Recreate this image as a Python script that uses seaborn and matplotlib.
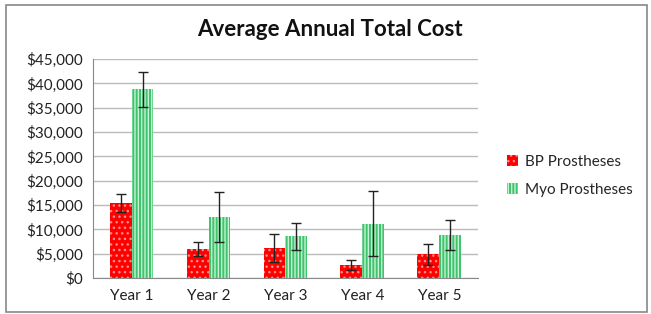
import pandas as pd
import numpy as np
import matplotlib.pyplot as plt
import matplotlib.ticker as mticker
from matplotlib.patches import Rectangle
import seaborn as sns

years = ['Year 1', 'Year 2', 'Year 3', 'Year 4', 'Year 5']
bp_cost = [15400, 6000, 6200, 2700, 4900]
bp_err = [1900, 1500, 2800, 1100, 2100]
myo_cost = [38800, 12600, 8600, 11200, 8800]
myo_err = [3600, 5100, 2800, 6700, 3100]
series = ['BP Prostheses', 'Myo Prostheses']

df = pd.DataFrame({
    'year': years * 2,
    'cost': bp_cost + myo_cost,
    'err': bp_err + myo_err,
    'type': [series[0]] * 5 + [series[1]] * 5,
})

sns.set_style('white')
plt.rcParams['font.family'] = ['Lato', 'DejaVu Sans']
plt.rcParams['hatch.linewidth'] = 1.0

fig = plt.figure(figsize=(6.51, 3.14), dpi=100)
ax = fig.add_axes([0.143, 0.114, 0.591, 0.698])

pal = {series[0]: '#FF0000', series[1]: '#3DC46C'}
sns.barplot(data=df, x='year', y='cost', hue='type', palette=pal, width=0.57,
            saturation=1, ax=ax, errorbar=None, legend=True)

hatches = {series[0]: '...', series[1]: '|||||'}
hcol = {series[0]: '#FF8C8C', series[1]: '#C8F2D6'}
for cont, name in zip(ax.containers, series):
    sub = df[df['type'] == name]
    xs = [p.get_x() + p.get_width() / 2 for p in cont.patches]
    for p in cont.patches:
        p.set_hatch(hatches[name])
        p.set_edgecolor(hcol[name])
        p.set_linewidth(0)
    ax.errorbar(xs, sub['cost'], yerr=sub['err'], fmt='none', ecolor='#222222',
                elinewidth=1, capsize=3.5, capthick=1, zorder=5)

ax.set_ylim(0, 45000)
ax.set_xlim(-0.5, 4.5)
ax.yaxis.set_major_locator(mticker.MultipleLocator(5000))
ax.yaxis.set_major_formatter(mticker.FuncFormatter(lambda v, _: f'${v:,.0f}'))
ax.grid(axis='y', color='#BBBBBB', linewidth=1)
ax.set_axisbelow(True)
ax.set_xlabel('')
ax.set_ylabel('')
for s in ['top', 'right']:
    ax.spines[s].set_visible(False)
ax.spines['left'].set_color('#888888')
ax.spines['bottom'].set_color('#888888')
ax.tick_params(axis='y', length=4, color='#888888', labelsize=11, labelcolor='#222222', pad=3)
ax.tick_params(axis='x', which='major', length=0, labelsize=11, labelcolor='#222222', pad=8)
ax.xaxis.set_minor_locator(mticker.FixedLocator(np.arange(-0.5, 5, 1)))
ax.tick_params(axis='x', which='minor', length=4, color='#888888')

leg = ax.legend(loc='center left', bbox_to_anchor=(1.04, 0.467), frameon=False,
                fontsize=11, handlelength=0.7, handleheight=0.7, handletextpad=0.5,
                labelspacing=0.9)
for h, name in zip(leg.legend_handles, series):
    h.set_hatch(hatches[name])
    h.set_edgecolor(hcol[name])
    h.set_linewidth(0)

fig.text(0.507, 0.905, 'Average Annual Total Cost', ha='center', va='center',
         fontsize=16, fontweight='bold', color='#111111')

fig.patches.append(Rectangle((0.009, 0.006), 0.985, 0.978, transform=fig.transFigure,
                             fill=False, edgecolor='#888888', linewidth=1.2))

fig.savefig('out.png', dpi=100)
